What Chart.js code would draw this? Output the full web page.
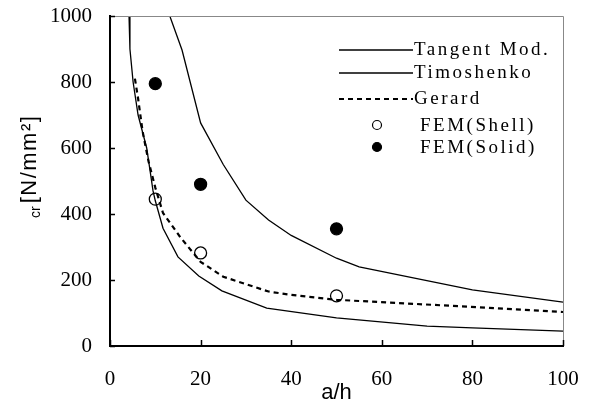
<!DOCTYPE html>
<html>
<head>
<meta charset="utf-8">
<script src="https://cdn.jsdelivr.net/npm/chart.js@4/dist/chart.umd.min.js"></script>
<style>
  html, body { margin: 0; padding: 0; background: #fff; }
  #wrap { width: 596px; height: 414px; position: relative; }
</style>
</head>
<body>
<div id="wrap"><canvas id="bucklingChart"></canvas></div>
<script>
// Buckling stress vs. slenderness a/h
const tangentA   = [4.2, 4.4, 5.1, 6.2, 8.1, 9.5, 10, 11.7, 15, 19.6, 24.7, 34.6, 50, 70, 80, 100];
const tangentS   = [1000, 900, 800, 700, 600, 470, 440, 357, 270, 212, 167, 115, 85, 60, 55, 45];

const timoA      = [13.2, 15.9, 20, 25, 30, 35, 40, 50, 55, 80, 100];
const timoS      = [1000, 897, 676, 550, 442, 382, 335, 266, 240, 170, 133];

const gerardA    = [5.5, 6.2, 7.2, 8.5, 10, 11.7, 15.5, 20, 25, 35, 40, 50, 75, 100];
const gerardS    = [810, 750, 650, 560, 480, 403, 330, 255, 210, 165, 155, 140, 122, 103];

const shellA     = [10, 20, 50];
const shellS     = [445, 282, 152];

const solidA     = [10, 20, 50];
const solidS     = [795, 490, 355];

const seriesNames = ['Tangent Mod.', 'Timoshenko', 'Gerard', 'FEM(Shell)', 'FEM(Solid)'];
const xTicks = [0, 20, 40, 60, 80, 100];
const yTicks = [0, 200, 400, 600, 800, 1000];

const SERIF = '"Liberation Serif", "Times New Roman", serif';
const SANS = '"Liberation Sans", Arial, sans-serif';

const pts = (xs, ys) => xs.map((x, i) => ({ x: x, y: ys[i] }));

// inward tick marks, top/right frame
const framePlugin = {
    id: 'frame',
    afterDraw(chart) {
        const { ctx, chartArea: a, scales } = chart;
        ctx.save();
        ctx.strokeStyle = '#888';
        ctx.lineWidth = 1;
        ctx.beginPath();
        ctx.moveTo(a.left, a.top + 0.5);
        ctx.lineTo(a.right + 0.5, a.top + 0.5);
        ctx.lineTo(a.right + 0.5, a.bottom);
        ctx.stroke();

        ctx.strokeStyle = '#000';
        ctx.lineWidth = 1.5;
        ctx.beginPath();
        xTicks.forEach(v => {
            const px = Math.round(scales.x.getPixelForValue(v)) + 0.5;
            ctx.moveTo(px, a.bottom);
            ctx.lineTo(px, a.bottom - 6);
        });
        yTicks.forEach(v => {
            const py = Math.round(scales.y.getPixelForValue(v)) + 0.5;
            ctx.moveTo(a.left, py);
            ctx.lineTo(a.left + 5, py);
        });
        ctx.stroke();
        ctx.restore();
    }
};

// y title with subscript
const yTitlePlugin = {
    id: 'yTitle',
    afterDraw(chart) {
        const { ctx } = chart;
        ctx.save();
        ctx.translate(36, 218);
        ctx.rotate(-Math.PI / 2);
        ctx.fillStyle = '#000';
        ctx.textBaseline = 'alphabetic';
        ctx.textAlign = 'left';
        ctx.font = '14px ' + SANS;
        ctx.fillText('cr', 0, 4);
        const w = ctx.measureText('cr').width;
        ctx.font = '22px ' + SANS;
        ctx.letterSpacing = '1.5px';
        ctx.fillText('[N/mm²]', w + 3, 0);
        ctx.restore();
    }
};

// legend: line sample / marker followed by label
const legendPlugin = {
    id: 'customLegend',
    afterDraw(chart) {
        const { ctx } = chart;
        const rowsY = [50, 73, 99, 125, 147];
        ctx.save();
        ctx.font = '19px ' + SERIF;
        ctx.letterSpacing = '2.5px';
        ctx.textBaseline = 'middle';
        ctx.fillStyle = '#000';
        chart.data.datasets.forEach((ds, i) => {
            const y = rowsY[i];
            if (ds.showLine) {
                ctx.strokeStyle = '#000';
                ctx.lineWidth = ds.borderWidth;
                ctx.setLineDash(ds.borderDash || []);
                ctx.beginPath();
                ctx.moveTo(339, y);
                ctx.lineTo(413, y);
                ctx.stroke();
                ctx.setLineDash([]);
                ctx.fillText(ds.label, 414, y);
            } else {
                ctx.beginPath();
                ctx.arc(377, y, 4.5, 0, Math.PI * 2);
                ctx.lineWidth = 1.2;
                ctx.strokeStyle = '#000';
                ctx.fillStyle = ds.pointBackgroundColor;
                ctx.fill();
                ctx.stroke();
                ctx.fillStyle = '#000';
                ctx.fillText(ds.label, 420, y + 1);
            }
        });
        ctx.restore();
    }
};

const lineDs = (label, data, dash, width) => ({
    label: label,
    data: data,
    showLine: true,
    borderColor: '#000',
    borderWidth: width,
    borderDash: dash,
    pointRadius: 0,
    tension: 0,
    fill: false
});

const markerDs = (label, data, fillColor) => ({
    label: label,
    data: data,
    showLine: false,
    pointRadius: 6,
    pointBorderWidth: 1.3,
    pointBorderColor: '#000',
    pointBackgroundColor: fillColor
});

new Chart(document.getElementById('bucklingChart'), {
    type: 'scatter',
    data: {
        datasets: [
            lineDs(seriesNames[0], pts(tangentA, tangentS), [], 1.3),
            lineDs(seriesNames[1], pts(timoA, timoS), [], 1.3),
            lineDs(seriesNames[2], pts(gerardA, gerardS), [5, 4], 2.2),
            markerDs(seriesNames[3], pts(shellA, shellS), '#fff'),
            markerDs(seriesNames[4], pts(solidA, solidS), '#000')
        ]
    },
    options: {
        responsive: true,
        maintainAspectRatio: false,
        animation: false,
        layout: { padding: 0 },
        plugins: {
            legend: { display: false },
            tooltip: { enabled: false }
        },
        scales: {
            x: {
                type: 'linear',
                min: 0,
                max: 100,
                afterBuildTicks: s => { s.ticks = xTicks.map(v => ({ value: v })); },
                afterFit: s => { s.height = 68; s.paddingLeft = 0; s.paddingRight = 33; },
                grid: { display: false, drawTicks: false },
                border: { display: true, color: '#000', width: 2 },
                ticks: {
                    color: '#000',
                    padding: 21,
                    font: { family: SERIF, size: 21 },
                    callback: v => String(v)
                },
                title: {
                    display: true,
                    text: 'a/h',
                    color: '#000',
                    padding: { top: 0, bottom: 8 },
                    font: { family: SANS, size: 22 }
                }
            },
            y: {
                type: 'linear',
                min: 0,
                max: 1000,
                afterBuildTicks: s => { s.ticks = yTicks.map(v => ({ value: v })); },
                afterFit: s => { s.width = 110; s.paddingTop = 16; s.paddingBottom = 0; },
                grid: { display: false, drawTicks: false },
                border: { display: true, color: '#000', width: 2 },
                ticks: {
                    color: '#000',
                    padding: 18,
                    font: { family: SERIF, size: 21 },
                    callback: v => String(v)
                }
            }
        }
    },
    plugins: [framePlugin, yTitlePlugin, legendPlugin]
});
</script>
</body>
</html>
